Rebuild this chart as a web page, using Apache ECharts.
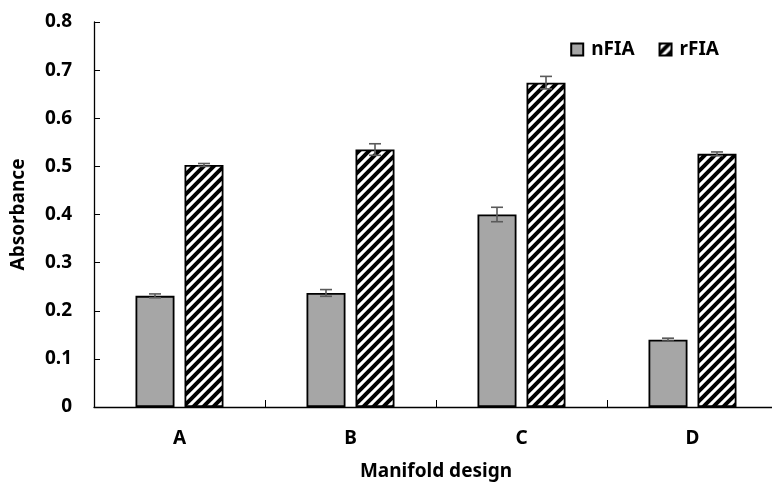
<!DOCTYPE html>
<html>
<head>
<meta charset="utf-8">
<script src="https://cdn.jsdelivr.net/npm/echarts@6/dist/echarts.min.js"></script>
<style>html,body{margin:0;padding:0;background:#fff}#c{width:772px;height:482px}</style>
</head>
<body>
<div id="c"></div>
<script>
const categories = ['A', 'B', 'C', 'D'];
const nFIA = [0.231, 0.237, 0.400, 0.140];
const nFIAErr = [0.004, 0.007, 0.015, 0.003];
const rFIA = [0.503, 0.535, 0.674, 0.526];
const rFIAErr = [0.003, 0.012, 0.013, 0.004];
const yTicks = [0, 0.1, 0.2, 0.3, 0.4, 0.5, 0.6, 0.7, 0.8];

const BAR_W = 39, GAP = 10;
const FONT = '"Noto Sans", "DejaVu Sans", sans-serif';

function hatch() {
  const s = 10;
  const cv = document.createElement('canvas');
  cv.width = s; cv.height = s;
  const g = cv.getContext('2d');
  g.fillStyle = '#fff'; g.fillRect(0, 0, s, s);
  g.strokeStyle = '#000'; g.lineWidth = 4;
  g.beginPath();
  g.moveTo(-2, s + 2); g.lineTo(s + 2, -2);
  g.moveTo(-2, 2); g.lineTo(2, -2);
  g.moveTo(s - 2, s + 2); g.lineTo(s + 2, s - 2);
  g.stroke();
  return cv;
}
const pattern = { image: hatch(), repeat: 'repeat' };

function errSeries(vals, errs, sign) {
  return {
    type: 'custom',
    z: 10,
    silent: true,
    data: vals.map((v, i) => [i, v, errs[i]]),
    renderItem: function (params, api) {
      const i = api.value(0), v = api.value(1), e = api.value(2);
      const off = sign * (BAR_W + GAP) / 2;
      const hi = api.coord([i, v + e]);
      const lo = api.coord([i, v - e]);
      const x = hi[0] + off;
      const cw = 6;
      const st = { stroke: '#5a5a5a', lineWidth: 1.6 };
      return {
        type: 'group',
        children: [
          { type: 'line', shape: { x1: x, y1: hi[1], x2: x, y2: lo[1] }, style: st },
          { type: 'line', shape: { x1: x - cw, y1: hi[1], x2: x + cw, y2: hi[1] }, style: st },
          { type: 'line', shape: { x1: x - cw, y1: lo[1], x2: x + cw, y2: lo[1] }, style: st }
        ]
      };
    }
  };
}

const txt = { fontFamily: FONT, fontWeight: 700, fontSize: 19, color: '#000' };

const chart = echarts.init(document.getElementById('c'));
chart.setOption({
  animation: false,
  backgroundColor: '#fff',
  grid: { left: 94, right: -6, top: 22, bottom: 75, containLabel: false, outerBoundsMode: 'none' },
  legend: {
    right: 48, top: 35,
    itemWidth: 12, itemHeight: 12, itemGap: 24,
    icon: 'rect',
    textStyle: Object.assign({ padding: [0, 0, 0, 3] }, txt),
    data: ['nFIA', 'rFIA']
  },
  xAxis: {
    type: 'category',
    data: categories,
    name: 'Manifold design',
    nameLocation: 'middle',
    nameGap: 55,
    nameTextStyle: txt,
    axisLine: { lineStyle: { color: '#000', width: 1.3 } },
    axisTick: { show: true, inside: true, length: 7, lineStyle: { color: '#000' } },
    axisLabel: Object.assign({ margin: 22 }, txt)
  },
  yAxis: {
    type: 'value',
    min: 0, max: 0.8, interval: 0.1,
    name: 'Absorbance',
    nameLocation: 'middle',
    nameGap: 66,
    nameTextStyle: txt,
    splitLine: { show: false },
    axisLine: { show: true, lineStyle: { color: '#000', width: 1.3 } },
    axisTick: { show: true, inside: true, length: 6, lineStyle: { color: '#000' } },
    axisLabel: Object.assign({
      margin: 22,
      formatter: v => { const t = yTicks.find(x => Math.abs(x - v) < 1e-9); return t === 0 ? '0' : String(+v.toFixed(1)); }
    }, txt)
  },
  series: [
    {
      name: 'nFIA', type: 'bar', data: nFIA,
      barWidth: BAR_W, barGap: (GAP / BAR_W * 100) + '%',
      itemStyle: { color: '#a6a6a6', borderColor: '#000', borderWidth: 1.8 }
    },
    {
      name: 'rFIA', type: 'bar', data: rFIA,
      barWidth: BAR_W,
      itemStyle: { color: pattern, borderColor: '#000', borderWidth: 1.8 }
    },
    errSeries(nFIA, nFIAErr, -1),
    errSeries(rFIA, rFIAErr, 1)
  ]
});
</script>
</body>
</html>
